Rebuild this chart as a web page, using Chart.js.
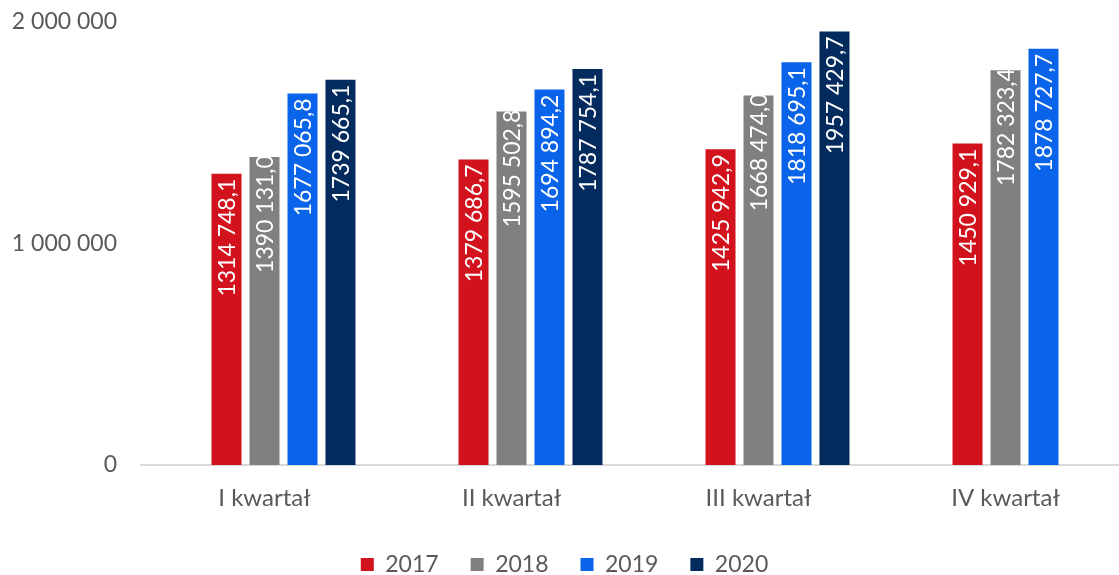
<!DOCTYPE html>
<html lang="pl">
<head>
<meta charset="utf-8">
<title>Kwartały 2017-2020</title>
<script src="https://cdn.jsdelivr.net/npm/chart.js@4.4.1/dist/chart.umd.min.js"></script>
<style>
  html, body { margin: 0; padding: 0; background: #fff; overflow: hidden; }
  #wrap { width: 1136px; height: 586px; position: relative; }
</style>
</head>
<body>
<div id="wrap"><canvas id="kwartaly"></canvas></div>
<script>
var quarters = ["I kwartał", "II kwartał", "III kwartał", "IV kwartał"];
var years = ["2017", "2018", "2019", "2020"];
var v2017 = [1314748.1, 1379686.7, 1425942.9, 1450929.1];
var v2018 = [1390131.0, 1595502.8, 1668474.0, 1782323.4];
var v2019 = [1677065.8, 1694894.2, 1818695.1, 1878727.7];
var v2020 = [1739665.1, 1787754.1, 1957429.7, null];
var yTicks = [0, 1000000, 2000000];

var colors = ['#D2131E', '#808080', '#0964EA', '#032B5E'];
var series = [v2017, v2018, v2019, v2020];

// 1 000 000 style for the axis
function spaced(n) {
    return String(n).replace(/\B(?=(\d{3})+(?!\d))/g, ' ');
}

// 1314 748,1 style for the bar labels
function barText(v) {
    var parts = v.toFixed(1).split('.');
    var i = parts[0];
    return i.slice(0, -3) + ' ' + i.slice(-3) + ',' + parts[1];
}

// empty first slot keeps the groups shifted like in the source sheet
var datasets = [{
    label: '',
    data: quarters.map(function () { return null; }),
    backgroundColor: 'transparent'
}];
years.forEach(function (y, i) {
    datasets.push({
        label: y,
        data: series[i],
        backgroundColor: colors[i],
        labelPad: i === 1 ? -2 : 5
    });
});

var barLabels = {
    id: 'barLabels',
    afterDatasetsDraw: function (chart) {
        var c = chart.ctx;
        c.save();
        c.fillStyle = '#ffffff';
        c.font = '23px Lato';
        c.textAlign = 'right';
        c.textBaseline = 'middle';
        chart.data.datasets.forEach(function (ds, di) {
            if (!ds.label) return;
            var meta = chart.getDatasetMeta(di);
            meta.data.forEach(function (bar, k) {
                var v = ds.data[k];
                if (v == null) return;
                c.save();
                c.translate(bar.x + 1, bar.y + ds.labelPad);
                c.rotate(-Math.PI / 2);
                c.fillText(barText(v), 0, 0);
                c.restore();
            });
        });
        c.restore();
    }
};

var canvas = document.getElementById('kwartaly');
var ctx = canvas.getContext('2d');

new Chart(ctx, {
    type: 'bar',
    data: { labels: quarters, datasets: datasets },
    options: {
        responsive: true,
        maintainAspectRatio: false,
        animation: false,
        categoryPercentage: 0.769,
        barPercentage: 0.79,
        layout: { padding: { top: 22, right: 7, left: 0, bottom: 0 } },
        plugins: {
            tooltip: { enabled: false },
            legend: {
                position: 'bottom',
                labels: {
                    color: '#595959',
                    font: { family: 'Lato', size: 23 },
                    boxWidth: 13,
                    boxHeight: 13,
                    padding: 32,
                    filter: function (item) { return item.text !== ''; }
                }
            }
        },
        scales: {
            x: {
                grid: { display: false, drawTicks: false },
                border: { display: true, color: '#D9D9D9', width: 2 },
                ticks: {
                    color: '#595959',
                    font: { family: 'Lato', size: 24 },
                    padding: 19
                },
                afterFit: function (scale) { scale.height = 56; }
            },
            y: {
                min: 0,
                max: 2000000,
                grid: { display: false, drawTicks: false },
                border: { display: false },
                ticks: {
                    stepSize: 1000000,
                    color: '#595959',
                    font: { family: 'Lato', size: 23 },
                    padding: 24,
                    callback: function (v) { return yTicks.indexOf(v) >= 0 ? spaced(v) : ''; }
                },
                afterFit: function (scale) {
                    scale.width = 141;
                    scale.paddingTop = 0;
                    scale.paddingBottom = 0;
                }
            }
        }
    },
    plugins: [barLabels]
});
</script>
</body>
</html>
